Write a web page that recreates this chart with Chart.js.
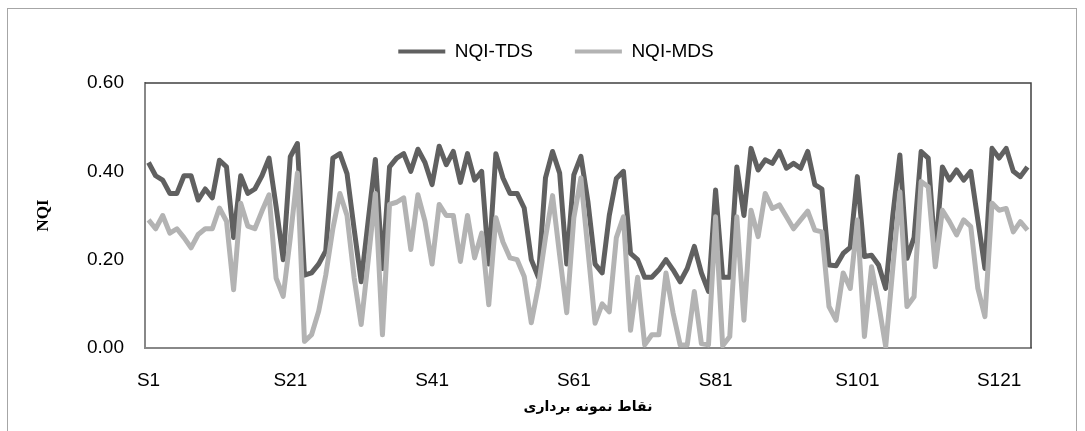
<!DOCTYPE html>
<html>
<head>
<meta charset="utf-8">
<title>NQI</title>
<script src="https://cdn.jsdelivr.net/npm/chart.js@4.4.1/dist/chart.umd.min.js"></script>
<style>
  html, body { margin: 0; padding: 0; background: #fff; }
  #wrap { width: 1085px; height: 431px; }
</style>
</head>
<body>
<div id="wrap"><canvas id="nqiChart" width="1085" height="431"></canvas></div>
<script>
// sampling points S1..S125
const sampleLabels = Array.from({ length: 125 }, (_, i) => 'S' + (i + 1));
const shownTicks = ['S1', 'S21', 'S41', 'S61', 'S81', 'S101', 'S121'];
const yTicks = [0, 0.2, 0.4, 0.6];

const nqiTds = [
  0.42, 0.39, 0.38, 0.35, 0.35, 0.39, 0.39, 0.335, 0.36, 0.34,
  0.425, 0.41, 0.25, 0.39, 0.35, 0.36, 0.39, 0.43, 0.32, 0.20,
  0.433, 0.463, 0.165, 0.17, 0.19, 0.22, 0.43, 0.44, 0.395, 0.27,
  0.15, 0.29, 0.427, 0.18, 0.41, 0.43, 0.44, 0.40, 0.45, 0.42,
  0.37, 0.457, 0.415, 0.445, 0.375, 0.44, 0.38, 0.40, 0.19, 0.44,
  0.385, 0.35, 0.35, 0.317, 0.20, 0.16, 0.385, 0.445, 0.396, 0.19,
  0.392, 0.434, 0.33, 0.19, 0.17, 0.30, 0.384, 0.40, 0.214, 0.20,
  0.16, 0.16, 0.177, 0.20, 0.177, 0.15, 0.18, 0.23, 0.17, 0.128,
  0.358, 0.16, 0.16, 0.41, 0.30, 0.452, 0.403, 0.426, 0.418, 0.445,
  0.407, 0.418, 0.407, 0.445, 0.37, 0.36, 0.188, 0.186, 0.214, 0.228,
  0.388, 0.207, 0.21, 0.188, 0.135, 0.30, 0.437, 0.203, 0.25, 0.445,
  0.43, 0.21, 0.41, 0.38, 0.403, 0.38, 0.40, 0.29, 0.18, 0.452,
  0.43, 0.452, 0.40, 0.388, 0.41
];

const nqiMds = [
  0.29, 0.27, 0.30, 0.26, 0.27, 0.25, 0.227, 0.257, 0.27, 0.27,
  0.317, 0.287, 0.132, 0.328, 0.276, 0.27, 0.31, 0.347, 0.158, 0.117,
  0.25, 0.396, 0.015, 0.03, 0.083, 0.165, 0.27, 0.35, 0.30, 0.16,
  0.053, 0.20, 0.35, 0.03, 0.325, 0.33, 0.34, 0.223, 0.347, 0.287,
  0.19, 0.325, 0.30, 0.30, 0.196, 0.30, 0.204, 0.26, 0.098, 0.295,
  0.24, 0.204, 0.20, 0.162, 0.057, 0.14, 0.25, 0.345, 0.21, 0.08,
  0.295, 0.385, 0.22, 0.056, 0.10, 0.082, 0.25, 0.297, 0.04, 0.16,
  0.007, 0.03, 0.03, 0.17, 0.08, 0.007, 0.007, 0.128, 0.01, 0.007,
  0.297, 0.005, 0.026, 0.297, 0.063, 0.312, 0.252, 0.35, 0.316, 0.324,
  0.297, 0.27, 0.29, 0.31, 0.267, 0.263, 0.094, 0.063, 0.17, 0.135,
  0.29, 0.026, 0.184, 0.10, 0.003, 0.18, 0.354, 0.094, 0.116, 0.377,
  0.365, 0.184, 0.312, 0.286, 0.256, 0.29, 0.275, 0.135, 0.071, 0.328,
  0.312, 0.316, 0.263, 0.286, 0.267
];

const SANS = "'Liberation Sans', Arial, sans-serif";

// white background, outer chart frame and plot-area top/right edges
const chartFrame = {
  id: 'chartFrame',
  beforeDraw(chart) {
    const ctx = chart.ctx;
    ctx.save();
    ctx.fillStyle = '#fff';
    ctx.fillRect(0, 0, chart.width, chart.height);
    ctx.strokeStyle = '#a6a6a6';
    ctx.lineWidth = 1;
    ctx.strokeRect(7.5, 8.5, 1069, 440);
    ctx.restore();
  },
  afterDraw(chart) {
    const { left, top, right, bottom } = chart.chartArea;
    const ctx = chart.ctx;
    ctx.save();
    ctx.strokeStyle = '#404040';
    ctx.lineWidth = 1.5;
    ctx.beginPath();
    ctx.moveTo(left, top);
    ctx.lineTo(right, top);
    ctx.lineTo(right, bottom);
    ctx.stroke();
    ctx.restore();
  }
};

new Chart(document.getElementById('nqiChart'), {
  type: 'line',
  data: {
    labels: sampleLabels,
    datasets: [
      {
        label: 'NQI-TDS',
        data: nqiTds,
        borderColor: '#606060',
        backgroundColor: '#606060',
        borderWidth: 5,
        pointRadius: 0,
        tension: 0,
        fill: false,
        borderJoinStyle: 'round',
        order: 1
      },
      {
        label: 'NQI-MDS',
        data: nqiMds,
        borderColor: '#b3b3b3',
        backgroundColor: '#b3b3b3',
        borderWidth: 5,
        pointRadius: 0,
        tension: 0,
        fill: false,
        borderJoinStyle: 'round',
        order: 0
      }
    ]
  },
  options: {
    responsive: false,
    animation: false,
    events: [],
    layout: { padding: { left: 27, right: 0, top: 0, bottom: 0 } },
    plugins: {
      tooltip: { enabled: false },
      legend: {
        position: 'top',
        weight: 1600,
        labels: {
          boxWidth: 47,
          boxHeight: 4,
          padding: 42,
          color: '#000',
          font: { family: SANS, size: 19 },
          generateLabels: chart => chart.data.datasets.map((ds, i) => ({
            text: ds.label,
            fillStyle: ds.borderColor,
            strokeStyle: ds.borderColor,
            lineWidth: 0,
            hidden: false,
            datasetIndex: i,
            fontColor: '#000'
          }))
        }
      },
      // empty spacer between legend and plot area
      subtitle: { display: true, text: '', padding: 0, font: { size: 10 } }
    },
    scales: {
      x: {
        type: 'category',
        offset: true,
        grid: { display: false, drawTicks: false },
        border: { display: true, color: '#888', width: 2 },
        ticks: {
          autoSkip: false,
          maxRotation: 0,
          minRotation: 0,
          padding: 21,
          color: '#000',
          font: { family: SANS, size: 19 },
          callback: function (val) {
            const lab = this.getLabelForValue(val);
            return shownTicks.includes(lab) ? lab : '';
          }
        },
        title: {
          display: true,
          text: 'نقاط نمونه برداری',
          color: '#000',
          font: { family: "'DejaVu Sans', sans-serif", size: 14, weight: 'bold' },
          padding: { top: 0, bottom: 15 }
        },
        afterFit: s => { s.height = 83; }
      },
      y: {
        type: 'linear',
        position: 'left',
        min: 0,
        max: 0.6,
        grid: { display: false, drawTicks: false },
        border: { display: true, color: '#888', width: 2 },
        ticks: {
          padding: 21,
          color: '#000',
          font: { family: SANS, size: 19 },
          callback: v => v.toFixed(2)
        },
        afterBuildTicks: s => { s.ticks = yTicks.map(v => ({ value: v })); },
        title: {
          display: true,
          text: 'NQI',
          color: '#000',
          font: { family: "'Liberation Serif', 'Times New Roman', serif", size: 17, weight: 'bold' },
          padding: { top: 6, bottom: 0 }
        },
        afterFit: s => { s.width = 118; }
      },
      // invisible right box so the plot area ends where the reference does
      y2: {
        type: 'linear',
        position: 'right',
        display: true,
        grid: { display: false, drawTicks: false },
        border: { display: false },
        ticks: { display: false },
        afterFit: s => { s.width = 54; }
      }
    }
  },
  plugins: [chartFrame]
});
</script>
</body>
</html>
